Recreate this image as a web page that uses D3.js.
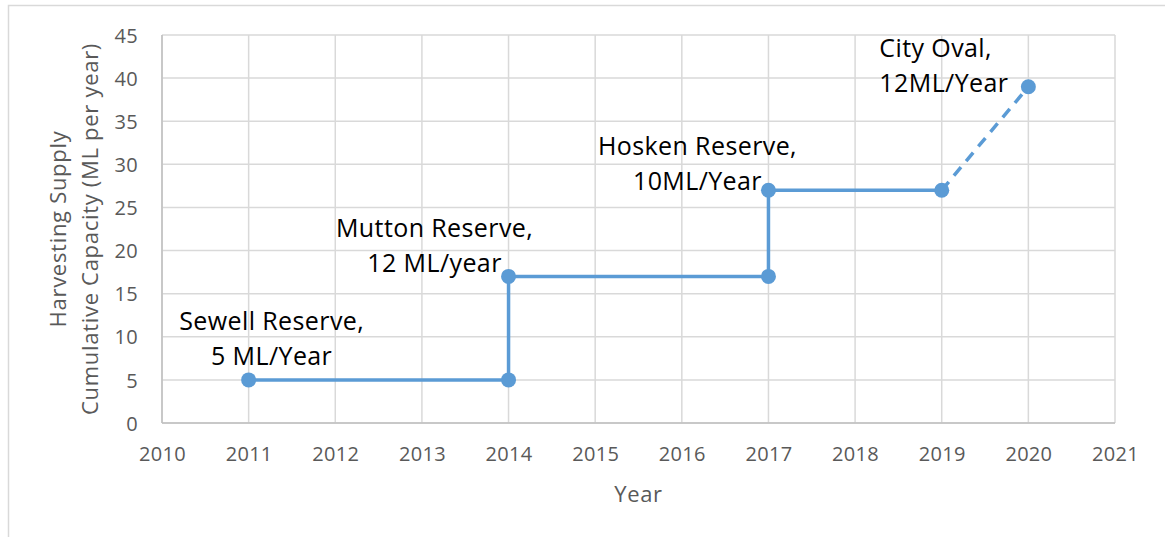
<!DOCTYPE html>
<html>
<head>
<meta charset="utf-8">
<script src="https://cdn.jsdelivr.net/npm/d3@7"></script>
<style>
	body { margin: 0; background: #fff; }
	svg { display: block; }
	text { font-family: "Open Sans", "Noto Sans", sans-serif; }
</style>
</head>
<body>
<svg id="chart"></svg>
<script>
// data
var years = [2011, 2014, 2014, 2017, 2017, 2019, 2020];
var capacity = [5, 5, 17, 17, 27, 27, 39];
// true where the link into this point is a planned (dashed) step
var planned = [false, false, false, false, false, false, true];

var labelYears = [2011, 2014, 2017, 2020];
var labelValues = [5, 17, 27, 39];
var labelLines = [
	["Sewell Reserve,", "5 ML/Year"],
	["Mutton Reserve,", "12 ML/year"],
	["Hosken Reserve,", "10ML/Year"],
	["City Oval,", "12ML/Year"]
];

var xTicks = d3.range(2010, 2022);
var yTicks = d3.range(0, 50, 5);

var W = 1165, H = 537;
var plotL = 162, plotR = 1115, plotT = 35, plotB = 423;
var blue = '#5b9bd5';

var svg = d3.select('#chart')
	.attr('width', W)
	.attr('height', H);

// outer chart border
svg.append('rect')
	.attr('x', 8.5)
	.attr('y', 5.5)
	.attr('width', W)
	.attr('height', H)
	.attr('fill', 'none')
	.attr('stroke', '#d9d9d9')
	.attr('stroke-width', 1.5);

var x = d3.scaleLinear().domain([2010, 2021]).range([plotL, plotR]);
var y = d3.scaleLinear().domain([0, 45]).range([plotB, plotT]);

// gridlines
svg.append('g')
	.selectAll('line')
	.data(xTicks)
	.enter().append('line')
	.attr('x1', function(d) { return x(d); })
	.attr('x2', function(d) { return x(d); })
	.attr('y1', plotT)
	.attr('y2', plotB)
	.attr('stroke', '#d9d9d9')
	.attr('stroke-width', 1.5);

svg.append('g')
	.selectAll('line')
	.data(yTicks)
	.enter().append('line')
	.attr('x1', plotL)
	.attr('x2', plotR)
	.attr('y1', function(d) { return y(d); })
	.attr('y2', function(d) { return y(d); })
	.attr('stroke', '#d9d9d9')
	.attr('stroke-width', 1.5);

// axis lines
svg.append('line')
	.attr('x1', plotL).attr('x2', plotR)
	.attr('y1', plotB).attr('y2', plotB)
	.attr('stroke', '#bfbfbf').attr('stroke-width', 1.5);
svg.append('line')
	.attr('x1', plotL).attr('x2', plotL)
	.attr('y1', plotT).attr('y2', plotB)
	.attr('stroke', '#bfbfbf').attr('stroke-width', 1.5);

// axes (labels only)
var xAxis = svg.append('g')
	.attr('transform', 'translate(0,' + plotB + ')')
	.call(d3.axisBottom(x).tickValues(xTicks).tickFormat(d3.format('d')).tickSize(0).tickPadding(24));
var yAxis = svg.append('g')
	.attr('transform', 'translate(' + plotL + ',0)')
	.call(d3.axisLeft(y).tickValues(yTicks).tickSize(0).tickPadding(24));

[xAxis, yAxis].forEach(function(a) {
	a.select('.domain').remove();
	a.selectAll('text')
		.attr('fill', '#595959')
		.style('font-size', '20px')
		.style('letter-spacing', '0.3px')
		.style('font-family', '"Open Sans", sans-serif');
});
yAxis.selectAll('text').attr('dy', '0.36em');

// axis titles
svg.append('text')
	.attr('x', (plotL + plotR) / 2)
	.attr('y', 502)
	.attr('text-anchor', 'middle')
	.attr('fill', '#595959')
	.style('font-size', '22px')
	.style('letter-spacing', '0.6px')
	.text('Year');

var yTitle = svg.append('text')
	.attr('transform', 'translate(66,' + ((plotT + plotB) / 2) + ') rotate(-90)')
	.attr('text-anchor', 'middle')
	.attr('fill', '#595959')
	.style('font-size', '22px')
	.style('letter-spacing', '0.7px');
yTitle.append('tspan').attr('x', 0).attr('y', 0).text('Harvesting Supply');
yTitle.append('tspan').attr('x', 0).attr('y', 32).text('Cumulative Capacity (ML per year)');

// series
var pts = years.map(function(d, i) { return {year: d, value: capacity[i], planned: planned[i]}; });

var segs = pts.slice(1).map(function(p, i) { return [pts[i], p]; });

svg.append('g')
	.selectAll('line')
	.data(segs)
	.enter().append('line')
	.attr('x1', function(s) { return x(s[0].year); })
	.attr('y1', function(s) { return y(s[0].value); })
	.attr('x2', function(s) { return x(s[1].year); })
	.attr('y2', function(s) { return y(s[1].value); })
	.attr('stroke', blue)
	.attr('stroke-width', 3.5)
	.attr('stroke-dasharray', function(s) { return s[1].planned ? '11,8' : null; });

svg.append('g')
	.selectAll('circle')
	.data(pts)
	.enter().append('circle')
	.attr('cx', function(d) { return x(d.year); })
	.attr('cy', function(d) { return y(d.value); })
	.attr('r', 7.5)
	.attr('fill', blue);

// data labels, offset from their point in px
var labelDx = [23, -74, -71, -149];
var labelDy = [-50, -39, -35, -30];
var labelAnchor = ['middle', 'middle', 'middle', 'start'];

labelYears.forEach(function(yr, i) {
	var t = svg.append('text')
		.attr('text-anchor', labelAnchor[i])
		.attr('fill', '#000')
		.style('font-size', '25px')
		.style('letter-spacing', '0.4px');
	labelLines[i].forEach(function(line, j) {
		t.append('tspan')
			.attr('x', x(yr) + labelDx[i])
			.attr('y', y(labelValues[i]) + labelDy[i] + j * 35)
			.text(line);
	});
});
</script>
</body>
</html>
